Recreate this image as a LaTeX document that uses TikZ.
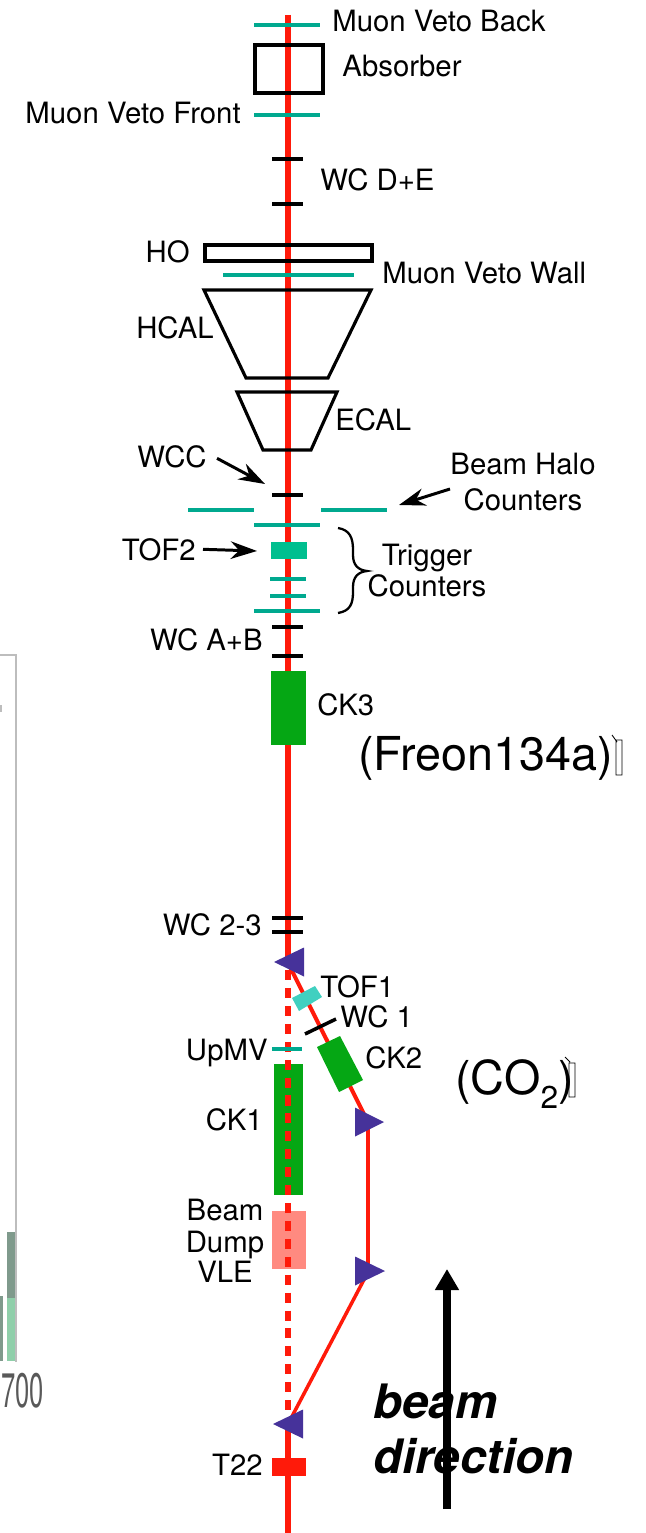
\documentclass[tikz,border=0pt]{standalone}
\usepackage{fontspec}
\setmainfont{TeX Gyre Heros}
\usetikzlibrary{arrows.meta,calc}
\definecolor{beamred}{HTML}{FF1A0A}
\definecolor{vetoteal}{HTML}{00A98F}
\definecolor{tofgreen}{HTML}{00BF8F}
\definecolor{tofcyan}{HTML}{40D0C0}
\definecolor{ckgreen}{HTML}{05A714}
\definecolor{dumpred}{HTML}{FF8A80}
\definecolor{magnetblue}{HTML}{46329A}
\definecolor{axisgray}{HTML}{BDBDBD}
\definecolor{bardark}{HTML}{7F9A8C}
\definecolor{barlight}{HTML}{8FCFAA}
\tikzset{
 lab/.style={inner sep=0pt,font=\fontsize{16.7}{19}\selectfont},
 biglab/.style={inner sep=0pt,font=\fontsize{26.6}{30}\selectfont},
 tealbar/.style={vetoteal,line width=2.7pt},
 wcbar/.style={black,line width=2pt},
 detector/.style={black,line width=1.8pt},
 beamline/.style={beamred,line width=2.9pt},
 sideline/.style={beamred,line width=2pt},
 callout/.style={-{Stealth[length=15pt,width=10pt]},line width=1.7pt},
 glitch/.style={black,line width=.5pt},
}
\begin{document}
\begin{tikzpicture}[x=.02cm,y=-.02cm]
 \useasboundingbox (0,0) rectangle (645,1533);
 % piece of the neighbouring histogram
 \draw[axisgray,line width=1.6pt] (0,655)--(16,655)--(16,1362);
 \fill[axisgray] (0,705) rectangle (1.5,712);
 \fill[bardark] (7,1232) rectangle (15,1298);
 \fill[barlight] (7,1298) rectangle (15,1361);
 \fill[bardark] (0,1296) rectangle (3,1361);
 \node[inner sep=0pt,anchor=base east,text=black!65,font=\fontsize{26}{30}\selectfont,xscale=.56,yscale=1.06,transform shape] (lbltick) at (44,1407) {700};
 % beam lines
 \coordinate (beamtop) at (288,15);
 \coordinate (beambot) at (288,1533);
 \coordinate (magA) at (288,963);
 \coordinate (magB) at (368,1122);
 \coordinate (magC) at (368,1272);
 \coordinate (magD) at (288,1424);
 \draw[beamline] (beamtop)--(magA);
 \draw[beamline] (magD)--(beambot);
 \draw[sideline,line width=2.3pt] (magA)--(magB);
 \draw[sideline] (magB)--(magC);
 \draw[sideline] (magC)--(magD);
 % upstream detectors
 \draw[detector] (255,45) rectangle (323,93);
 \draw[detector] (205,245) rectangle (372,261);
 \draw[detector] (204,290)--(371,290)--(328,378)--(246,378)--cycle;
 \draw[detector] (237,392)--(337,392)--(311,450)--(263,450)--cycle;
 \foreach \y/\xa/\xb in {25/254/320,115/254/320,275/223/354,510/188/254,510/321/387,525/254/320,579/270/306,596/270/306,611/254/320}
  \draw[tealbar] (\xa,\y)--(\xb,\y);
 \foreach \y in {159,204,495,627,656,918,932}
  \draw[wcbar] (272,\y)--(303,\y);
 \fill[tofgreen] (271,542) rectangle (307,559);
 \fill[ckgreen] (271,671) rectangle (306,745);
 % downstream part
 \fill[ckgreen] (274,1064) rectangle (303,1195);
 \fill[dumpred] (272,1211) rectangle (306,1269);
 \draw[beamline,dash pattern=on 5.7pt off 4.5pt,dash phase=6.2pt] (magA)--(magD);
 \draw[tealbar,line width=2pt] (272,1049)--(302,1049);
 \fill[tofcyan] (292,998)--(315,986)--(322,997)--(299,1011)--cycle;
 \draw[wcbar] (305,1034)--(336,1019);
 \fill[ckgreen] (317,1047)--(340,1036)--(363,1080)--(339,1092)--cycle;
 \fill[beamred] (272,1458) rectangle (306,1476);
 \foreach \tipx/\tipy/\basex in {274/962/304,384/1122/355,385/1271/355,273/1424/303}
  \fill[magnetblue] (\tipx,\tipy)--(\basex,\tipy-14.5)--(\basex,\tipy+14.5)--cycle;
 % labels
 \node[lab,anchor=base west] (lblmvb) at (332,32) {Muon Veto Back};
 \node[lab,anchor=base west] (lblabs) at (342,77) {Absorber};
 \node[lab,anchor=base east] (lblmvf) at (241,124) {Muon Veto Front};
 \node[lab,anchor=base west] (lblwcde) at (320,191) {WC D+E};
 \node[lab,anchor=base east] (lblho) at (190,263) {HO};
 \node[lab,anchor=base west] (lblwall) at (382,284) {Muon Veto Wall};
 \node[lab,anchor=base east] (lblhcal) at (214,339) {HCAL};
 \node[lab,anchor=base west] (lblecal) at (335,431) {ECAL};
 \node[lab,anchor=base east] (lblwcc) at (207,467) {WCC};
 \node[lab,anchor=base] (lblhalo) at (523,475) {Beam Halo};
 \node[lab,anchor=base] (lblhalob) at (523,510) {Counters};
 \node[lab,anchor=base] (lbltrig) at (427,565) {Trigger};
 \node[lab,anchor=base] (lbltrigb) at (427,596) {Counters};
 \node[lab,anchor=base east] (lbltof) at (196,560) {TOF2};
 \node[lab,anchor=base east] (lblwcab) at (263,650) {WC A+B};
 \node[lab,anchor=base west] (lblckc) at (317,715) {CK3};
 \node[biglab,anchor=base west] (lblfreon) at (358,770) {(Freon134a)};
 \node[lab,anchor=base east] (lblwcbc) at (262,935) {WC 2-3};
 \node[lab,anchor=base west] (lbltofa) at (320,997) {TOF1};
 \node[lab,anchor=base west] (lblwca) at (340,1027) {WC 1};
 \node[lab,anchor=base east] (lblupmv) at (268,1060) {UpMV};
 \node[lab,anchor=base west] (lblckb) at (365,1068) {CK2};
 \node[biglab,anchor=base west] (lblco) at (455,1094) {(CO\raisebox{-.3em}{\fontsize{18}{18}\selectfont 2})};
 \node[lab,anchor=base east] (lblcka) at (263,1130) {CK1};
 \node[lab,anchor=base] (lblbeam) at (225,1220) {Beam};
 \node[lab,anchor=base] (lbldump) at (225,1252) {Dump};
 \node[lab,anchor=base] (lblvle) at (225,1282) {VLE};
 \node[lab,anchor=base east] (lbltt) at (263,1475) {T22};
 % little marks after the closing brackets
 \draw[glitch] (616,740) rectangle (622,775) (612,735)--(617,742);
 \draw[glitch] (569,1063) rectangle (575,1097) (565,1057)--(570,1062);
 % callouts
 \coordinate (wcctip) at (265,484);
 \coordinate (halotip) at (399,505);
 \coordinate (toftip) at (257,551);
 \draw[callout] ($(lblwcc.east)+(10,2)$)--(wcctip);
 \draw[callout] (450,489)--(halotip);
 \draw[callout] ($(lbltof.east)+(7,0)$)--(toftip);
 \draw[line width=1.3pt] (338,528) .. controls (350,530) and (353,538) .. (353,550) -- (353,555) .. controls (353,565) and (358,570) .. (367,571) .. controls (358,572) and (353,577) .. (353,587) -- (353,592) .. controls (353,604) and (350,611) .. (338,613);
 % beam direction
 \coordinate (arrowbot) at (447,1509);
 \coordinate (arrowtip) at (447,1269);
 \draw[-{Triangle[length=12pt,width=13pt]},line width=4pt] (arrowbot)--(arrowtip);
 \node[inner sep=0pt,anchor=base west,font=\fontsize{27}{31}\bfseries\itshape\selectfont] (lblbm) at (373,1418) {beam};
 \node[inner sep=0pt,anchor=base west,font=\fontsize{27}{31}\bfseries\itshape\selectfont] (lbldir) at (373,1473) {direction};
\end{tikzpicture}
\end{document}
